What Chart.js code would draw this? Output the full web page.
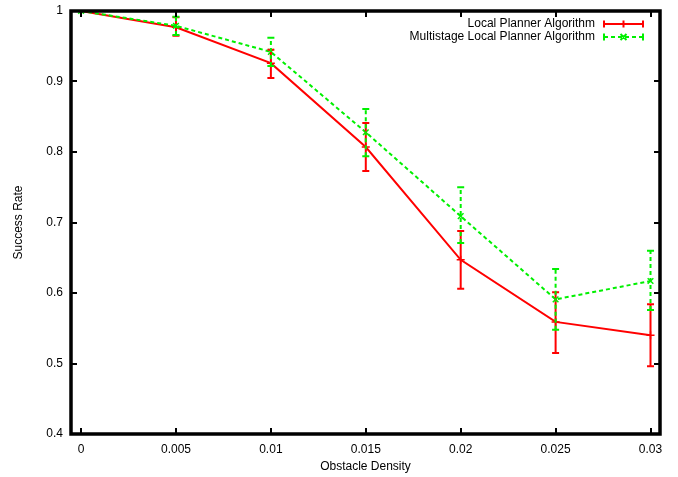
<!DOCTYPE html>
<html>
<head>
<meta charset="utf-8">
<script src="https://cdn.jsdelivr.net/npm/chart.js@4/dist/chart.umd.min.js"></script>
<style>
  html, body { margin: 0; padding: 0; background: #fff; }
  #wrap { width: 678px; height: 477px; }
</style>
</head>
<body>
<div id="wrap"><canvas id="chart" width="678" height="477"></canvas></div>
<script>
const density = [0, 0.005, 0.01, 0.015, 0.02, 0.025, 0.03];
const xTicks = [0, 0.005, 0.01, 0.015, 0.02, 0.025, 0.03];
const yTicks = [0.4, 0.5, 0.6, 0.7, 0.8, 0.9, 1];

const localRate = [1.0, 0.977, 0.926, 0.807, 0.647, 0.559, 0.540];
const localLow  = [1.0, 0.965, 0.905, 0.773, 0.606, 0.515, 0.496];
const localHigh = [1.0, 0.991, 0.945, 0.841, 0.688, 0.601, 0.584];

const multiRate = [1.0, 0.979, 0.942, 0.828, 0.709, 0.591, 0.617];
const multiLow  = [1.0, 0.966, 0.922, 0.794, 0.671, 0.548, 0.576];
const multiHigh = [1.0, 0.992, 0.962, 0.861, 0.750, 0.634, 0.660];

const FONT = '"Liberation Sans", Arial, Helvetica, sans-serif';
const RED = '#ff0000';
const GREEN = '#00f000';
const DASH = [4, 3];

function pts(ys) {
  return density.map((x, i) => ({ x, y: ys[i] }));
}

// error bars, frame, inward ticks and legend, gnuplot style
const gnuplotBits = {
  id: 'gnuplotBits',
  afterDatasetsDraw(chart) {
    const ctx = chart.ctx;
    const xs = chart.scales.x, ys = chart.scales.y;
    const bars = [
      { lo: localLow, hi: localHigh, color: RED, dash: [] },
      { lo: multiLow, hi: multiHigh, color: GREEN, dash: DASH }
    ];
    ctx.save();
    bars.forEach(b => {
      ctx.strokeStyle = b.color;
      ctx.lineWidth = 2;
      density.forEach((d, i) => {
        const px = xs.getPixelForValue(d);
        const p1 = ys.getPixelForValue(b.lo[i]);
        const p2 = ys.getPixelForValue(b.hi[i]);
        ctx.setLineDash(b.dash);
        ctx.beginPath();
        ctx.moveTo(px, p1);
        ctx.lineTo(px, p2);
        ctx.stroke();
        ctx.setLineDash([]);
        ctx.beginPath();
        ctx.moveTo(px - 3.5, p1); ctx.lineTo(px + 3.5, p1);
        ctx.moveTo(px - 3.5, p2); ctx.lineTo(px + 3.5, p2);
        ctx.stroke();
      });
    });
    ctx.restore();
  },
  afterDraw(chart) {
    const ctx = chart.ctx;
    const a = chart.chartArea;
    const xs = chart.scales.x, ys = chart.scales.y;
    ctx.save();
    ctx.strokeStyle = '#000';
    ctx.lineWidth = 2;
    ctx.beginPath();
    xTicks.forEach(t => {
      const px = Math.round(xs.getPixelForValue(t));
      ctx.moveTo(px, a.bottom); ctx.lineTo(px, a.bottom - 6);
      ctx.moveTo(px, a.top); ctx.lineTo(px, a.top + 6);
    });
    yTicks.forEach(t => {
      const py = Math.round(ys.getPixelForValue(t));
      ctx.moveTo(a.left, py); ctx.lineTo(a.left + 6, py);
      ctx.moveTo(a.right, py); ctx.lineTo(a.right - 6, py);
    });
    ctx.stroke();
    ctx.lineWidth = 3.5;
    ctx.strokeRect(a.left, a.top, a.right - a.left, a.bottom - a.top);

    // legend
    const items = [
      { text: 'Local Planner Algorithm', color: RED, dash: [], style: 'plus' },
      { text: 'Multistage Local Planner Algorithm', color: GREEN, dash: DASH, style: 'x' }
    ];
    ctx.font = '12px ' + FONT;
    ctx.textAlign = 'right';
    ctx.textBaseline = 'middle';
    items.forEach((it, i) => {
      const y = 24 + i * 13;
      ctx.fillStyle = '#000';
      ctx.fillText(it.text, 595, y);
      ctx.strokeStyle = it.color;
      ctx.lineWidth = 2;
      ctx.setLineDash(it.dash);
      ctx.beginPath();
      ctx.moveTo(604, y); ctx.lineTo(643, y);
      ctx.stroke();
      ctx.setLineDash([]);
      ctx.beginPath();
      ctx.moveTo(604, y - 3.5); ctx.lineTo(604, y + 3.5);
      ctx.moveTo(643, y - 3.5); ctx.lineTo(643, y + 3.5);
      if (it.style === 'plus') {
        ctx.moveTo(623.5, y - 3.5); ctx.lineTo(623.5, y + 3.5);
      } else {
        ctx.moveTo(620.5, y - 3); ctx.lineTo(626.5, y + 3);
        ctx.moveTo(620.5, y + 3); ctx.lineTo(626.5, y - 3);
      }
      ctx.stroke();
    });
    ctx.restore();
  }
};

new Chart(document.getElementById('chart').getContext('2d'), {
  type: 'line',
  data: {
    datasets: [
      {
        label: 'Local Planner Algorithm',
        data: pts(localRate),
        borderColor: RED,
        backgroundColor: RED,
        borderWidth: 2,
        pointStyle: 'cross',
        pointRadius: 4,
        pointBorderWidth: 1.5,
        order: 1
      },
      {
        label: 'Multistage Local Planner Algorithm',
        data: pts(multiRate),
        borderColor: GREEN,
        backgroundColor: GREEN,
        borderWidth: 2,
        borderDash: DASH,
        pointStyle: 'crossRot',
        pointRadius: 4,
        pointBorderWidth: 1.5,
        order: 0
      }
    ]
  },
  options: {
    responsive: false,
    animation: false,
    layout: { padding: { top: 11, right: 18, left: 0, bottom: 0 } },
    plugins: {
      legend: { display: false },
      tooltip: { enabled: false }
    },
    scales: {
      x: {
        type: 'linear',
        min: -0.00053,
        max: 0.0305,
        afterBuildTicks: s => { s.ticks = xTicks.map(v => ({ value: v })); },
        afterFit: s => { s.height = 43; s.paddingLeft = 0; s.paddingRight = 0; },
        grid: { display: false, drawTicks: false },
        border: { display: false },
        ticks: {
          color: '#000',
          font: { family: FONT, size: 12 },
          padding: 8,
          maxRotation: 0,
          callback: v => String(+v.toFixed(3))
        },
        title: {
          display: true,
          text: 'Obstacle Density',
          color: '#000',
          font: { family: FONT, size: 12 },
          padding: { top: 0, bottom: 3 }
        }
      },
      y: {
        min: 0.4,
        max: 1,
        afterBuildTicks: s => { s.ticks = yTicks.map(v => ({ value: v })); },
        afterFit: s => { s.width = 71; s.paddingTop = 0; s.paddingBottom = 0; },
        grid: { display: false, drawTicks: false },
        border: { display: false },
        ticks: {
          color: '#000',
          font: { family: FONT, size: 12 },
          padding: 8,
          callback: v => String(+v.toFixed(1))
        },
        title: {
          display: true,
          text: 'Success Rate',
          color: '#000',
          font: { family: FONT, size: 12 },
          padding: { top: 11, bottom: 0 }
        }
      }
    }
  },
  plugins: [gnuplotBits]
});
</script>
</body>
</html>
